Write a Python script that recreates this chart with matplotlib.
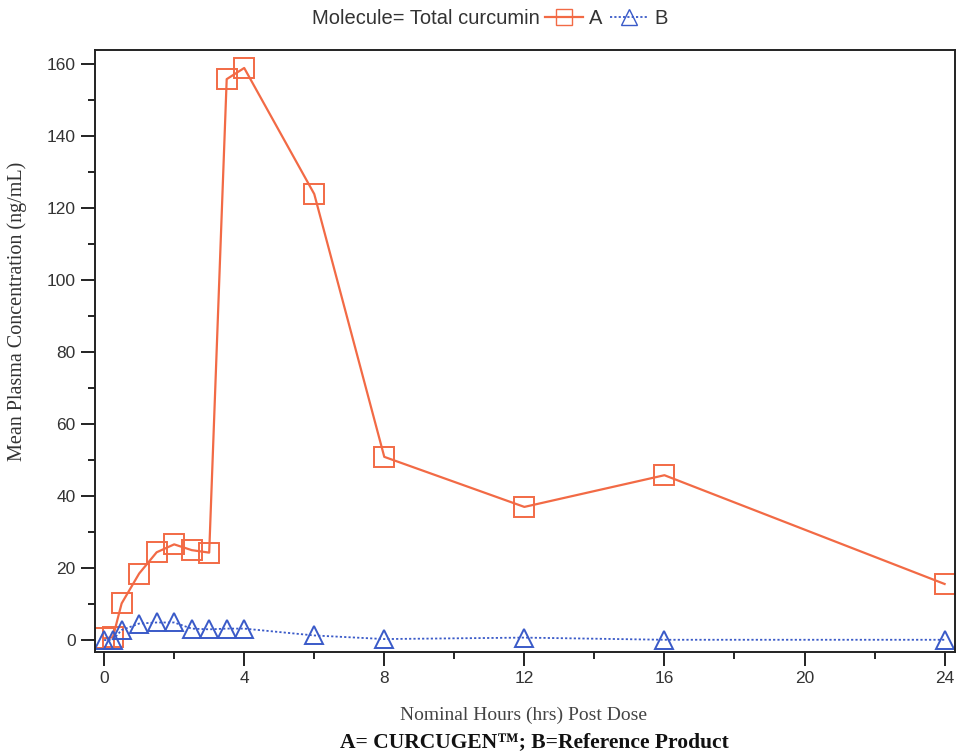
import matplotlib
matplotlib.use("Agg")
import matplotlib.pyplot as plt
from matplotlib.lines import Line2D
from matplotlib.ticker import MultipleLocator

# ==========================================================
# DADOS
# ==========================================================

horas = [0, 0.25, 0.5, 1, 1.5, 2, 2.5, 3, 3.5, 4, 6, 8, 12, 16, 24]

conc_a = [0.5, 0.8, 10.2, 18.5, 24.4, 26.6, 25.0, 24.3, 155.8, 158.9,
          123.9, 50.9, 37.0, 45.8, 15.6]

conc_b = [0.0, 0.1, 2.8, 4.6, 4.9, 4.9, 3.2, 3.0, 3.2, 3.2,
          1.3, 0.3, 0.7, 0.1, 0.1]

xticks = [0, 4, 8, 12, 16, 20, 24]
yticks = [0, 20, 40, 60, 80, 100, 120, 140, 160]

COR_A = "#F26A45"
COR_B = "#3A5AC8"

# ==========================================================
# GRÁFICO
# ==========================================================

fig = plt.figure(figsize=(9.57, 7.55), dpi=100)
ax = fig.add_axes([0.0993, 0.1364, 0.8987, 0.7974])

ax.plot(horas, conc_a, color=COR_A, lw=1.6, marker="s", ms=14,
        mfc="none", mec=COR_A, mew=1.4)
ax.plot(horas, conc_b, color=COR_B, lw=1.3, ls=(0, (1.2, 1.2)), marker="^",
        ms=13, mfc="none", mec=COR_B, mew=1.4)

ax.set_xlim(-0.26, 24.3)
ax.set_ylim(-3.3, 163.9)
ax.set_xticks(xticks)
ax.set_yticks(yticks)
ax.xaxis.set_minor_locator(MultipleLocator(2))
ax.yaxis.set_minor_locator(MultipleLocator(10))

ax.tick_params(which="major", length=10, width=1.4, labelsize=12.5,
               direction="out", colors="#222222", pad=4)
ax.tick_params(which="minor", length=5, width=1.4, direction="out",
               color="#222222")
for lab in ax.get_xticklabels() + ax.get_yticklabels():
    lab.set_family("Liberation Sans")
    lab.set_color("#333333")

for s in ax.spines.values():
    s.set_linewidth(1.4)
    s.set_color("#222222")

ax.set_ylabel("Mean Plasma Concentration (ng/mL)", family="Liberation Serif",
              fontsize=14.5, color="#333333")
ax.yaxis.set_label_coords(-0.079, 0.565)

fig.text(0.547, 0.053, "Nominal Hours (hrs) Post Dose",
         family="Liberation Serif", fontsize=14, color="#444444",
         ha="center", va="center")
fig.text(0.558, 0.017, "A= CURCUGEN\u2122; B=Reference Product",
         family="Liberation Serif", fontsize=15.5, fontweight="bold",
         color="#111111", ha="center", va="center")

# legenda
fig.text(0.564, 0.976, "Molecule= Total curcumin", family="Liberation Sans",
         fontsize=14.5, color="#333333", ha="right", va="center")
handles = [
    Line2D([], [], color=COR_A, lw=1.6, marker="s", ms=12, mfc="none",
           mec=COR_A),
    Line2D([], [], color=COR_B, lw=1.3, ls=(0, (1.2, 1.2)), marker="^",
           ms=12, mfc="none", mec=COR_B),
]
leg = fig.legend(handles, ["A", "B"], loc="center left",
                 bbox_to_anchor=(0.569, 0.976), ncol=2, frameon=False,
                 handlelength=1.9, columnspacing=0.4, handletextpad=0.3,
                 borderpad=0.0, borderaxespad=0.0,
                 prop={"family": "Liberation Sans", "size": 14.5})
for t in leg.get_texts():
    t.set_color("#333333")

plt.savefig("out.png", dpi=100)
